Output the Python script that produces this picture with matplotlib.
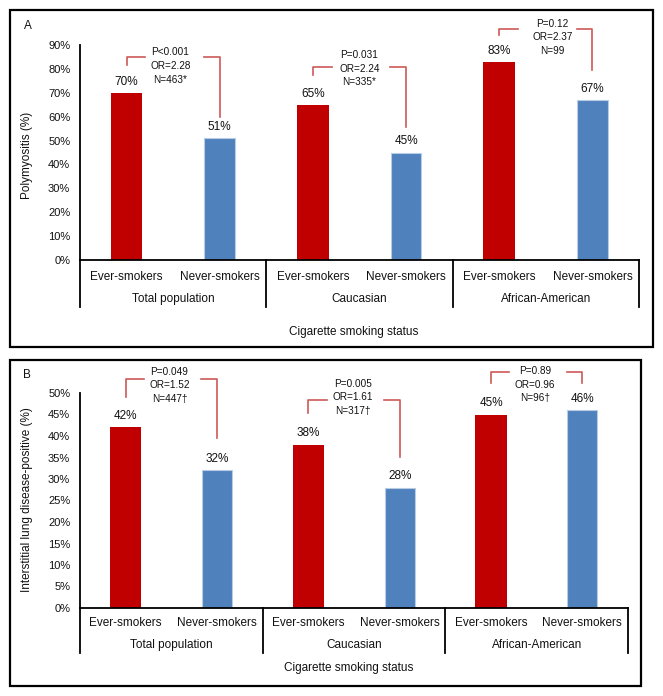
import matplotlib
matplotlib.use("Agg")
import matplotlib.pyplot as plt
from matplotlib.patches import Rectangle

plt.rcParams['font.family'] = ['Liberation Sans', 'DejaVu Sans']

groups = ['Total population', 'Caucasian', 'African-American']
smoking = ['Ever-smokers', 'Never-smokers']

# Panel A - polymyositis
pm_ever = [70, 65, 83]
pm_never = [51, 45, 67]
pm_stats = ['P<0.001\nOR=2.28\nN=463*', 'P=0.031\nOR=2.24\nN=335*', 'P=0.12\nOR=2.37\nN=99']

# Panel B - interstitial lung disease
ild_ever = [42, 38, 45]
ild_never = [32, 28, 46]
ild_stats = ['P=0.049\nOR=1.52\nN=447\u2020', 'P=0.005\nOR=1.61\nN=317\u2020', 'P=0.89\nOR=0.96\nN=96\u2020']

RED = '#C00000'
BLUE = '#4F81BD'
LINE = '#CD5A57'
TXT = '#111111'


def draw_panel(ax, ever, never, stats, ymax, step, brk_top, brk_drop, brk_right,
               txt_x, txt_y, cat_y, grp_y, sep_y, xlab_y):
    xs_e = [2 * i for i in range(len(ever))]
    xs_n = [2 * i + 1 for i in range(len(never))]
    ax.bar(xs_e, ever, width=0.34, color=RED, zorder=2)
    ax.bar(xs_n, never, width=0.33, color=BLUE, edgecolor='#B8CCE4', linewidth=0.8, zorder=2)
    for x, v in list(zip(xs_e, ever)) + list(zip(xs_n, never)):
        ax.annotate(f'{v}%', (x, v), xytext=(0, 8), textcoords='offset points',
                    ha='center', va='center', fontsize=8.5, color=TXT)

    ax.set_xlim(-0.5, 2 * len(ever) - 0.5)
    ax.set_ylim(0, ymax)
    ax.set_yticks(range(0, ymax + 1, step))
    ax.set_yticklabels([f'{t}%' for t in range(0, ymax + 1, step)], fontsize=8, color=TXT)
    ax.tick_params(axis='y', length=0, pad=7)
    ax.set_xticks([])
    for s in ['top', 'right']:
        ax.spines[s].set_visible(False)
    ax.spines['left'].set_linewidth(1.3)
    ax.spines['bottom'].set_linewidth(1.3)

    # significance brackets
    for i, s in enumerate(stats):
        xl, xr = xs_e[i], xs_n[i]
        top = brk_top[i]
        ax.plot([xl, xl, xl + 0.2], [top - brk_drop[i], top, top], color=LINE, lw=1.2, clip_on=False)
        ax.plot([xr - 0.17, xr, xr], [top, top, brk_right[i]], color=LINE, lw=1.2, clip_on=False)
        ax.text(txt_x[i], txt_y[i], s, ha='center', va='center', fontsize=7.2,
                linespacing=1.45, color=TXT)

    # multi-level category axis
    tr = ax.get_xaxis_transform()
    for i, g in enumerate(groups):
        ax.text(xs_e[i], cat_y, smoking[0], transform=tr, ha='center', va='center', fontsize=8.5, color=TXT)
        ax.text(xs_n[i], cat_y, smoking[1], transform=tr, ha='center', va='center', fontsize=8.5, color=TXT)
        ax.text(xs_e[i] + 0.5, grp_y, g, transform=tr, ha='center', va='center', fontsize=8.5, color=TXT)
    for b in [-0.5, 1.5, 3.5, 5.5]:
        ax.plot([b, b], [0, sep_y], transform=tr, color='black', lw=1.3, clip_on=False)
    ax.text(0.49, xlab_y, 'Cigarette smoking status', transform=ax.transAxes,
            ha='center', va='center', fontsize=8.5, color=TXT)


fig = plt.figure(figsize=(6.63, 6.96), dpi=100)
W, H = 663.0, 696.0

# outer frames
fig.patches.append(Rectangle((10 / W, 1 - 347 / H), 643 / W, 337 / H, transform=fig.transFigure,
                             fill=False, edgecolor='black', linewidth=1.6))
fig.patches.append(Rectangle((10 / W, 1 - 686 / H), 631 / W, 326 / H, transform=fig.transFigure,
                             fill=False, edgecolor='black', linewidth=1.6))

axA = fig.add_axes([80 / W, 1 - 260 / H, 559 / W, 215 / H])
draw_panel(axA, pm_ever, pm_never, pm_stats, 90, 10,
           brk_top=[85, 80.8, 96.7], brk_drop=[3.4, 3.4, 2.6], brk_right=[60, 55.7, 79.5],
           txt_x=[0.47, 2.5, 4.57], txt_y=[81.2, 80, 93.3],
           cat_y=-0.079, grp_y=-0.181, sep_y=-0.219, xlab_y=-0.335)
fig.text(28 / W, 1 - 26 / H, 'A', fontsize=8.5, color=TXT, ha='center', va='center')
fig.text(27 / W, 1 - 155 / H, 'Polymyositis (%)', rotation=90, fontsize=8.5, color=TXT,
         ha='center', va='center')

axB = fig.add_axes([80 / W, 1 - 608 / H, 548 / W, 215 / H])
draw_panel(axB, ild_ever, ild_never, ild_stats, 50, 5,
           brk_top=[53.3, 48.4, 54.9], brk_drop=[4.2, 3.1, 2.6], brk_right=[39.5, 35.1, 52.3],
           txt_x=[0.48, 2.49, 4.48], txt_y=[51.8, 49, 51.9],
           cat_y=-0.070, grp_y=-0.172, sep_y=-0.209, xlab_y=-0.279)
fig.text(27 / W, 1 - 375 / H, 'B', fontsize=8.5, color=TXT, ha='center', va='center')
fig.text(27 / W, 1 - 500 / H, 'Interstitial lung disease-positive (%)', rotation=90, fontsize=8.5,
         color=TXT, ha='center', va='center')

fig.savefig('out.png', dpi=100)
